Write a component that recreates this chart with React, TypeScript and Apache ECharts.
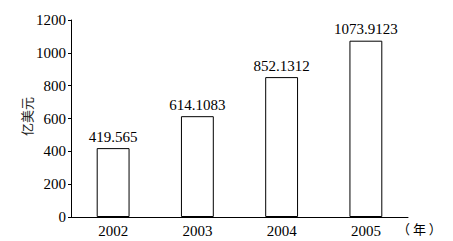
import React, { useEffect, useRef } from "react";
import * as echarts from "echarts";

const years = ["2002", "2003", "2004", "2005"];
const values = [419.565, 614.1083, 852.1312, 1073.9123];
const valueLabels = ["419.565", "614.1083", "852.1312", "1073.9123"];
const yTicks = { min: 0, max: 1200, interval: 200 };
const yName = "亿美元";
const xName = "（ 年 ）";

const serif = "'Liberation Serif', 'DejaVu Serif', serif";
const cjk = "'Noto Sans CJK SC', sans-serif";

export default function App() {
  const ref = useRef<HTMLDivElement>(null);
  useEffect(() => {
    const chart = echarts.init(ref.current!, undefined, { renderer: "svg" });
    chart.setOption({
      animation: false,
      backgroundColor: "#fff",
      grid: { left: 71, right: 45, top: 20, bottom: 24, containLabel: false },
      xAxis: {
        type: "category",
        data: years,
        boundaryGap: true,
        axisLine: { lineStyle: { color: "#000", width: 1 } },
        axisTick: { show: false },
        axisLabel: { color: "#000", fontFamily: serif, fontSize: 15, margin: 6 },
        splitLine: { show: false },
      },
      yAxis: {
        type: "value",
        min: yTicks.min,
        max: yTicks.max,
        interval: yTicks.interval,
        name: yName,
        nameLocation: "middle",
        nameRotate: 90,
        nameGap: 38,
        nameMoveOverlap: false,
        nameTextStyle: { color: "#222", fontFamily: cjk, fontSize: 13, padding: [0, 0, 0, 4] },
        axisLine: { show: true, lineStyle: { color: "#000", width: 1 } },
        axisTick: { show: true, length: 3, lineStyle: { color: "#000" } },
        axisLabel: {
          color: "#000",
          fontFamily: serif,
          fontSize: 15,
          margin: 5,
          formatter: (v: number) => String(v),
        },
        splitLine: { show: false },
      },
      graphic: [
        {
          type: "text",
          left: 397,
          top: 222,
          style: {
            text: xName,
            fill: "#000",
            font: `13px ${cjk}`,
          },
        },
      ],
      series: [
        {
          type: "bar",
          data: values,
          barWidth: "39%",
          itemStyle: { color: "#fff", borderColor: "#000", borderWidth: 1 },
          label: {
            show: true,
            position: "top",
            distance: 4,
            color: "#000",
            fontFamily: serif,
            fontSize: 15,
            formatter: (p: any) => valueLabels[p.dataIndex],
          },
        },
      ],
    });
    return () => chart.dispose();
  }, []);
  return (
    <div
      ref={ref}
      style={{ position: "absolute", left: 0, top: 0, width: 453, height: 241 }}
    />
  );
}
